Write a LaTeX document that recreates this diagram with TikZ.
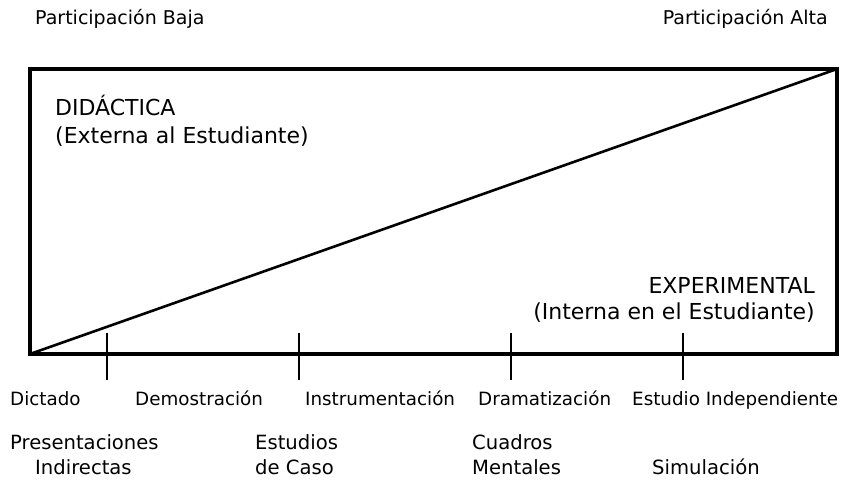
\documentclass[tikz,border=0pt]{standalone}
\usepackage{fontspec}
\setmainfont{DejaVu Sans}
\begin{document}
\begin{tikzpicture}[x=1pt,y=-1pt,
  lbl/.style={inner sep=0pt,font=\fontsize{18.3}{25}\selectfont},
  lbltwo/.style={inner sep=0pt,font=\fontsize{19.6}{25}\selectfont},
  toplbl/.style={inner sep=0pt,font=\fontsize{19}{25}\selectfont},
  inlbl/.style={inner sep=0pt,font=\fontsize{22}{27}\selectfont},
  frame/.style={line width=4pt},
  diag/.style={line width=2.6pt},
  tick/.style={line width=1.3pt}]
\useasboundingbox[fill=white] (0,0) rectangle (844,487);
% frame
\coordinate (bl) at (30,354);
\coordinate (tr) at (837,69);
\draw[frame] (bl) rectangle (tr);
\draw[diag] (bl) -- (tr);
% ticks
\foreach \n/\x in {t1/107,t2/299,t3/511,t4/683}{
  \coordinate (\n a) at (\x,333);
  \coordinate (\n b) at (\x,380);
  \draw[tick] (\n a) -- (\n b);
}
% top labels
\node[toplbl,anchor=base west] (baja) at (35,25) {Participación Baja};
\node[toplbl,anchor=base east] (alta) at (828,25) {Participación Alta};
% inner labels
\node[inlbl,anchor=base west] (did) at (55,116) {DIDÁCTICA};
\node[inlbl,anchor=base west] (ext) at (55,143) {(Externa al Estudiante)};
\node[inlbl,anchor=base east] (exp) at (815,293) {EXPERIMENTAL};
\node[inlbl,anchor=base east] (int) at (815,319) {(Interna en el Estudiante)};
% bottom row 1
\node[lbl,anchor=base west] (dic) at (10,405) {Dictado};
\node[lbl,anchor=base west] (dem) at (135,405) {Demostración};
\node[lbl,anchor=base west] (ins) at (305,405) {Instrumentación};
\node[lbl,anchor=base west] (dra) at (478,405) {Dramatización};
\node[lbl,anchor=base west] (est) at (632,405) {Estudio Independiente};
% bottom row 2
\node[lbltwo,anchor=base west] (pre) at (10,449) {Presentaciones};
\node[lbltwo,anchor=base west] (ind) at (35,474) {Indirectas};
\node[lbltwo,anchor=base west] (eca) at (255,449) {Estudios};
\node[lbltwo,anchor=base west] (dca) at (255,474) {de Caso};
\node[lbltwo,anchor=base west] (cua) at (472,449) {Cuadros};
\node[lbltwo,anchor=base west] (men) at (472,474) {Mentales};
\node[lbltwo,anchor=base west] (sim) at (652,474) {Simulación};
\end{tikzpicture}
\end{document}
